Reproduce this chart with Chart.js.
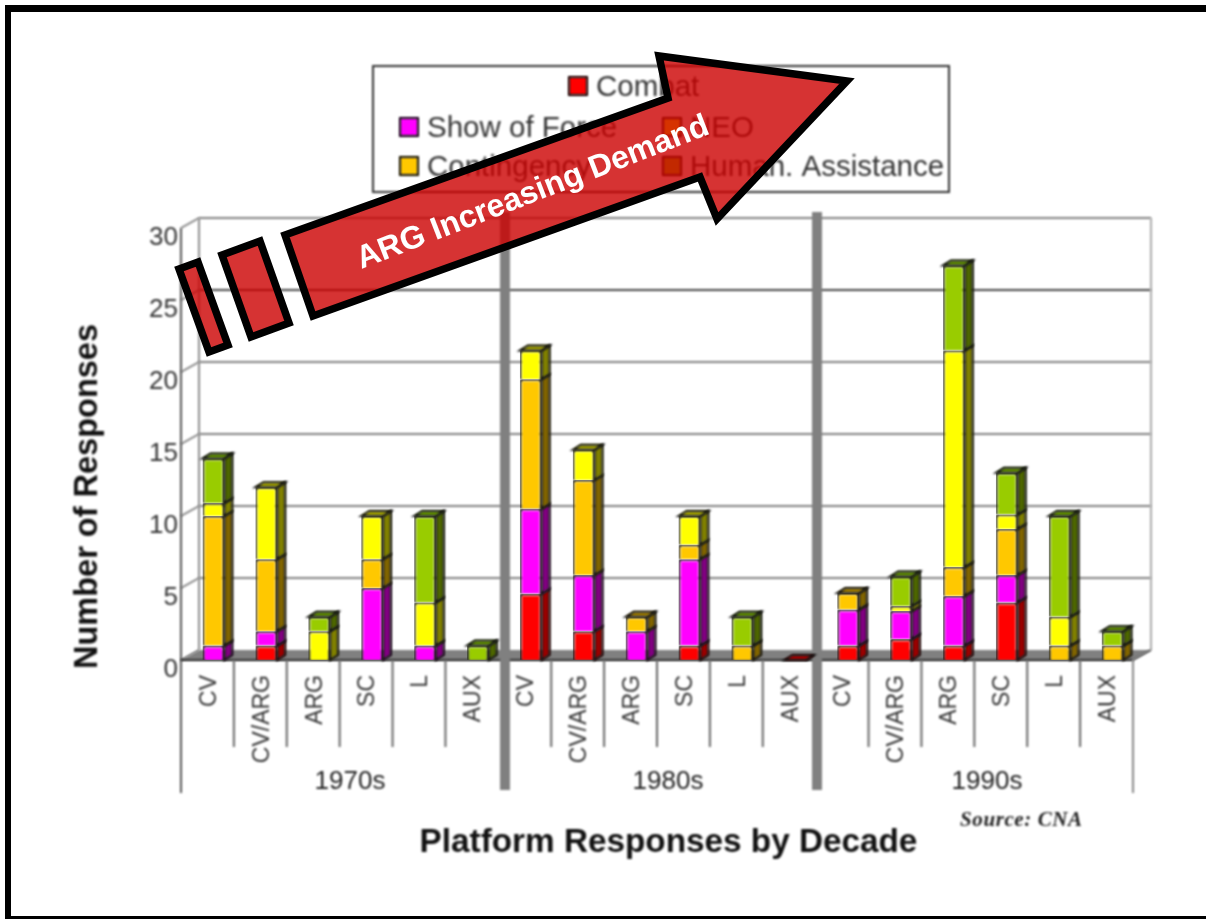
<!DOCTYPE html>
<html><head><meta charset="utf-8">
<script src="https://cdn.jsdelivr.net/npm/chart.js@4/dist/chart.umd.min.js"></script>
<style>html,body{margin:0;padding:0;background:#fff;overflow:hidden}canvas{display:block}</style>
</head><body><canvas id="c" width="1206" height="919"></canvas>
<script>
const categories = ['CV','CV/ARG','ARG','SC','L','AUX','CV','CV/ARG','ARG','SC','L','AUX','CV','CV/ARG','ARG','SC','L','AUX'];
const decades = ['1970s','1980s','1990s'];
const combat   = [null,1,null,null,null,null, 4.6,2,null,1,null,0, 1,1.45,1,4,null,null];
const showForce= [1,1,null,5,1,null, 5.9,3.9,2,6,null,null, 2.5,1.95,3.45,1.9,null,null];
const contingency=[9,5,null,2,null,null, 9,6.6,1,1,1,null, 1.15,null,2,3.2,1,1];
const neo      = [0.9,5,2,3,3,null, 2,2.1,null,2,null,null, null,0.35,15.05,1,2,null];
const humanAsst= [3.1,null,1,null,6,1, null,null,null,null,2,null, null,2.05,5.9,2.9,7,1];
const seriesNames=['Combat','Show of Force','Contingency','NEO','Human. Assistance'];
const seriesColors=['#ff0000','#ff00ff','#ffc800','#ffff00','#99cc00'];
const sideColors=['#990000','#800080','#806400','#808000','#4d6600'];
const topColors=['#aa0000','#aa00aa','#aa8500','#aaaa00','#669900'];
const seriesValues=[combat,showForce,contingency,neo,humanAsst];
const yTicks=[0,5,10,15,20,25,30];
const yTitle='Number of Responses', xTitle='Platform Responses by Decade', source='Source: CNA', arrowText='ARG Increasing Demand';

const DX=18, DY=10, BDX=8, BDY=5, AX0=181, AX1=1133, SHIFT=6;
function poly(ctx,pts,fill,stroke,lw){ctx.beginPath();pts.forEach((p,i)=>i?ctx.lineTo(p[0],p[1]):ctx.moveTo(p[0],p[1]));ctx.closePath();if(fill){ctx.fillStyle=fill;ctx.fill();}if(stroke){ctx.strokeStyle=stroke;ctx.lineWidth=lw;ctx.stroke();}}
function line(ctx,x0,y0,x1,y1,c,lw){ctx.beginPath();ctx.moveTo(x0,y0);ctx.lineTo(x1,y1);ctx.strokeStyle=c;ctx.lineWidth=lw;ctx.stroke();}

const scene={id:'scene',
 beforeDraw(chart){
  const ctx=chart.ctx;ctx.save();
  ctx.fillStyle='#fff';ctx.fillRect(0,0,1206,919);
  ctx.fillStyle='#000';ctx.fillRect(5,5,1201,7);ctx.fillRect(5,5,6,914);ctx.fillRect(5,916,1201,3);
  ctx.restore();
  ctx.filter='blur(0.8px)';
 },
 beforeDatasetsDraw(chart){
  const ctx=chart.ctx,y=chart.scales.y,x=chart.scales.x;ctx.save();
  const y0=y.getPixelForValue(0),yT=y.getPixelForValue(30);
  poly(ctx,[[AX0,y0],[AX1,y0],[AX1+DX,y0-DY],[AX0+DX,y0-DY]],'#808080');
  yTicks.forEach(v=>{const p=y.getPixelForValue(v);
    line(ctx,AX0,p,AX0+DX,p-DY,'#808080',2);
    if(v>0)line(ctx,AX0+DX,p-DY,AX1+DX,p-DY,v===25?'#444':'#808080',2);
  });
  line(ctx,AX0+DX,yT-DY,AX0+DX,y0-DY,'#8c8c8c',2);
  line(ctx,AX1+DX,yT-DY,AX1+DX,y0-DY,'#aaa',2);
  line(ctx,AX0,yT,AX0,793,'#555',2);
  line(ctx,AX0,y0,AX1,y0,'#222',2);
  line(ctx,AX1,y0,AX1,793,'#888',2);
  line(ctx,AX1,y0,AX1+DX,y0-DY,'#555',2);
  categories.forEach((c,i)=>{ if(i>0&&i%6!==0){const px=x.getPixelForValue(i)-SHIFT-x.width/categories.length/2;line(ctx,px,y0,px,747,'#666',2);}});
  [505,817].forEach(px=>{ctx.fillStyle='#808080';ctx.fillRect(px-5,212,10,578);});
  const n=chart.data.datasets.length;
  categories.forEach((c,i)=>{
   let topIdx=-1;
   for(let d=0;d<n;d++){if(seriesValues[d][i]!==null)topIdx=d;}
   for(let d=0;d<n;d++){
    if(seriesValues[d][i]===null)continue;
    const b=chart.getDatasetMeta(d).data[i],l=b.x-b.width/2,r=b.x+b.width/2;
    poly(ctx,[[r,b.y],[r+BDX,b.y-BDY],[r+BDX,b.base-BDY],[r,b.base]],sideColors[d],'#111',2);
    if(d===topIdx)poly(ctx,[[l,b.y],[l+BDX,b.y-BDY],[r+BDX,b.y-BDY],[r,b.y]],topColors[d],'#111',2);
   }
  });
  ctx.restore();
 },
 afterDraw(chart){
  const ctx=chart.ctx;ctx.save();
  ctx.fillStyle='#222';
  ctx.font='26px "Liberation Sans"';ctx.textAlign='center';ctx.textBaseline='middle';
  [350,668,987].forEach((px,i)=>ctx.fillText(decades[i],px,782));
  ctx.fillStyle='#111';ctx.font='bold 33.3px "Liberation Sans"';
  ctx.fillText(xTitle,668.5,843);
  ctx.font='bold 32.5px "Liberation Sans"';
  ctx.save();ctx.translate(88,496.5);ctx.rotate(-Math.PI/2);ctx.fillText(yTitle,0,0);ctx.restore();
  ctx.font='italic bold 21px "Liberation Serif"';ctx.fillStyle='#222';ctx.textAlign='left';
  ctx.letterSpacing='0.6px';
  ctx.fillText(source,960,821);
  ctx.letterSpacing='0px';
  ctx.fillStyle='#fff';ctx.fillRect(373,66,576,126);
  ctx.strokeStyle='#333';ctx.lineWidth=2;ctx.strokeRect(373,66,576,126);
  const spots=[[569,86],[400,127],[400,166],[663,127],[663,166]];
  ctx.font='29.5px "Liberation Sans"';
  chart.data.datasets.forEach((ds,d)=>{const[sx,sy]=spots[d];
    ctx.fillStyle=ds.backgroundColor;ctx.fillRect(sx,sy-9,18,18);
    ctx.strokeStyle='#111';ctx.lineWidth=2;ctx.strokeRect(sx,sy-9,18,18);
    ctx.fillStyle='#333';ctx.fillText(ds.label,sx+27,sy+2);
  });
  ctx.filter='none';
  const red='rgba(204,0,0,0.8)';
  ctx.lineJoin='miter';ctx.miterLimit=10;
  [[[179,269],[198,262],[228,345],[209,352]],[[222,255],[260,241],[289,323],[251,337]],
   [[285,235],[668,98],[659,56],[847,81],[717,219],[700,177],[313,316]]].forEach(p=>poly(ctx,p,red,'#000',7.5));
  ctx.fillStyle='#fff';ctx.font='bold 32px "Liberation Sans"';ctx.textAlign='center';ctx.textBaseline='middle';
  ctx.save();ctx.translate(533,193);ctx.rotate(-21.2*Math.PI/180);ctx.fillText(arrowText,0,0);ctx.restore();
  ctx.restore();
 }
};

new Chart(document.getElementById('c'),{
 type:'bar',
 plugins:[scene],
 data:{labels:categories,datasets:seriesNames.map((n,d)=>({label:n,data:seriesValues[d],backgroundColor:seriesColors[d],borderColor:'#111',borderWidth:2,barPercentage:0.41,categoryPercentage:1}))},
 options:{responsive:false,animation:false,devicePixelRatio:1,
  layout:{padding:{left:0,top:228,right:67,bottom:0}},
  plugins:{legend:{display:false},tooltip:{enabled:false},title:{display:false}},
  scales:{
   x:{stacked:true,grid:{display:false},border:{display:false},
      afterFit(s){s.height=259;},
      ticks:{autoSkip:false,minRotation:90,maxRotation:90,padding:7,labelOffset:-4,color:'#333',font:{family:'Liberation Sans',size:23}}},
   y:{stacked:true,min:0,max:30,grid:{display:false},border:{display:false},
      afterFit(s){s.width=187;},
      afterBuildTicks(s){s.ticks=yTicks.map(v=>({value:v}));},
      ticks:{padding:1,labelOffset:10,color:'#333',font:{family:'Liberation Sans',size:26}}}
  }
 }
});
</script></body></html>
